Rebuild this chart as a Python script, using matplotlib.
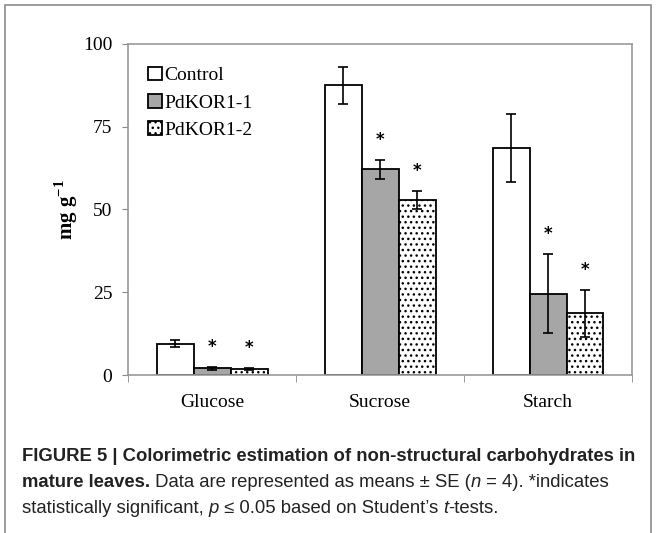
import numpy as np
import matplotlib
matplotlib.use('Agg')
import matplotlib.pyplot as plt
from matplotlib.patches import Rectangle

# data
categories = ['Glucose', 'Sucrose', 'Starch']
groups = ['Control', 'PdKOR1-1', 'PdKOR1-2']
control = [9.5, 87.4, 68.6]
control_se = [1.1, 5.6, 10.3]
kor1 = [2.0, 62.1, 24.6]
kor1_se = [0.5, 2.9, 12.0]
kor2 = [1.8, 52.8, 18.6]
kor2_se = [0.4, 2.8, 7.1]
signif = [False, True, True]   # asterisk for the two lines

plt.rcParams['font.family'] = ['Liberation Serif', 'DejaVu Serif']
plt.rcParams['hatch.linewidth'] = 1.0

fig = plt.figure(figsize=(6.57, 5.33), dpi=100)
ax = fig.add_axes([0.195, 0.2964, 0.767, 0.6216])

x = np.arange(len(categories))
w = 0.22
means = [control, kor1, kor2]
ses = [control_se, kor1_se, kor2_se]
faces = ['white', '#a6a6a6', 'white']
hatches = [None, None, '...']

for i in range(3):
    ax.bar(x + (i - 1) * w, means[i], w, color=faces[i], edgecolor='black',
           linewidth=1.3, hatch=hatches[i], label=groups[i], zorder=2)
    ax.errorbar(x + (i - 1) * w, means[i], yerr=ses[i], fmt='none',
                ecolor='black', elinewidth=1.2, capsize=3.5, capthick=1.2, zorder=3)
    if signif[i]:
        for j in range(len(categories)):
            ax.text(x[j] + (i - 1) * w, means[i][j] + ses[i][j] + 6, '*',
                    ha='center', va='center', fontsize=12, fontweight='bold',
                    family='DejaVu Sans')

ax.set_xlim(-0.5, 2.5)
ax.set_ylim(0, 100)
ax.set_yticks([0, 25, 50, 75, 100])
ax.set_xticks(x)
ax.set_xticklabels(categories, fontsize=14)
ax.set_xticks([-0.5, 0.5, 1.5, 2.5], minor=True)
ax.tick_params(axis='x', which='major', length=0, pad=14)
ax.tick_params(axis='x', which='minor', length=5, color='#888888', direction='out')
ax.tick_params(axis='y', length=4, color='#888888', direction='out', labelsize=14, pad=7.5)
for s in ax.spines.values():
    s.set_color('#999999')
    s.set_linewidth(1.2)

ax.set_ylabel('mg g$^{\\mathregular{-1}}$', fontsize=15, fontweight='bold', labelpad=2)

ax.legend(loc='upper left', bbox_to_anchor=(0.02, 0.96), frameon=False, fontsize=14,
          handlelength=0.7, handleheight=0.7, handletextpad=0.15, labelspacing=0.5,
          borderpad=0)

# outer frame of the figure panel
fig.patches.append(Rectangle((5 / 657, -0.1), 646 / 657, 1.1 - 5 / 533,
                             transform=fig.transFigure, fill=False,
                             edgecolor='#8c8c8c', linewidth=1.2))

# caption, drawn run by run
def caption_line(runs, x0, y0, size=13.3):
    r = fig.canvas.get_renderer()
    xpos = x0
    for txt, weight, style in runs:
        t = fig.text(xpos, y0, txt, fontsize=size, fontweight=weight, fontstyle=style,
                     family=['Liberation Sans', 'DejaVu Sans'], color='#222222', va='baseline')
        bb = t.get_window_extent(renderer=r)
        xpos += bb.width / fig.bbox.width

cx = 22 / 657
caption_line([('FIGURE 5 | Colorimetric estimation of non-structural carbohydrates in', 'bold', 'normal')],
             cx, 1 - 461 / 533)
caption_line([('mature leaves.', 'bold', 'normal'),
              (' Data are represented as means \u00b1 SE (', 'normal', 'normal'),
              ('n', 'normal', 'italic'),
              (' = 4). *indicates', 'normal', 'normal')],
             cx, 1 - 487 / 533)
caption_line([('statistically significant, ', 'normal', 'normal'),
              ('p', 'normal', 'italic'),
              (' \u2264 0.05 based on Student\u2019s ', 'normal', 'normal'),
              ('t', 'normal', 'italic'),
              ('-tests.', 'normal', 'normal')],
             cx, 1 - 513 / 533)

fig.savefig('out.png', dpi=100)
